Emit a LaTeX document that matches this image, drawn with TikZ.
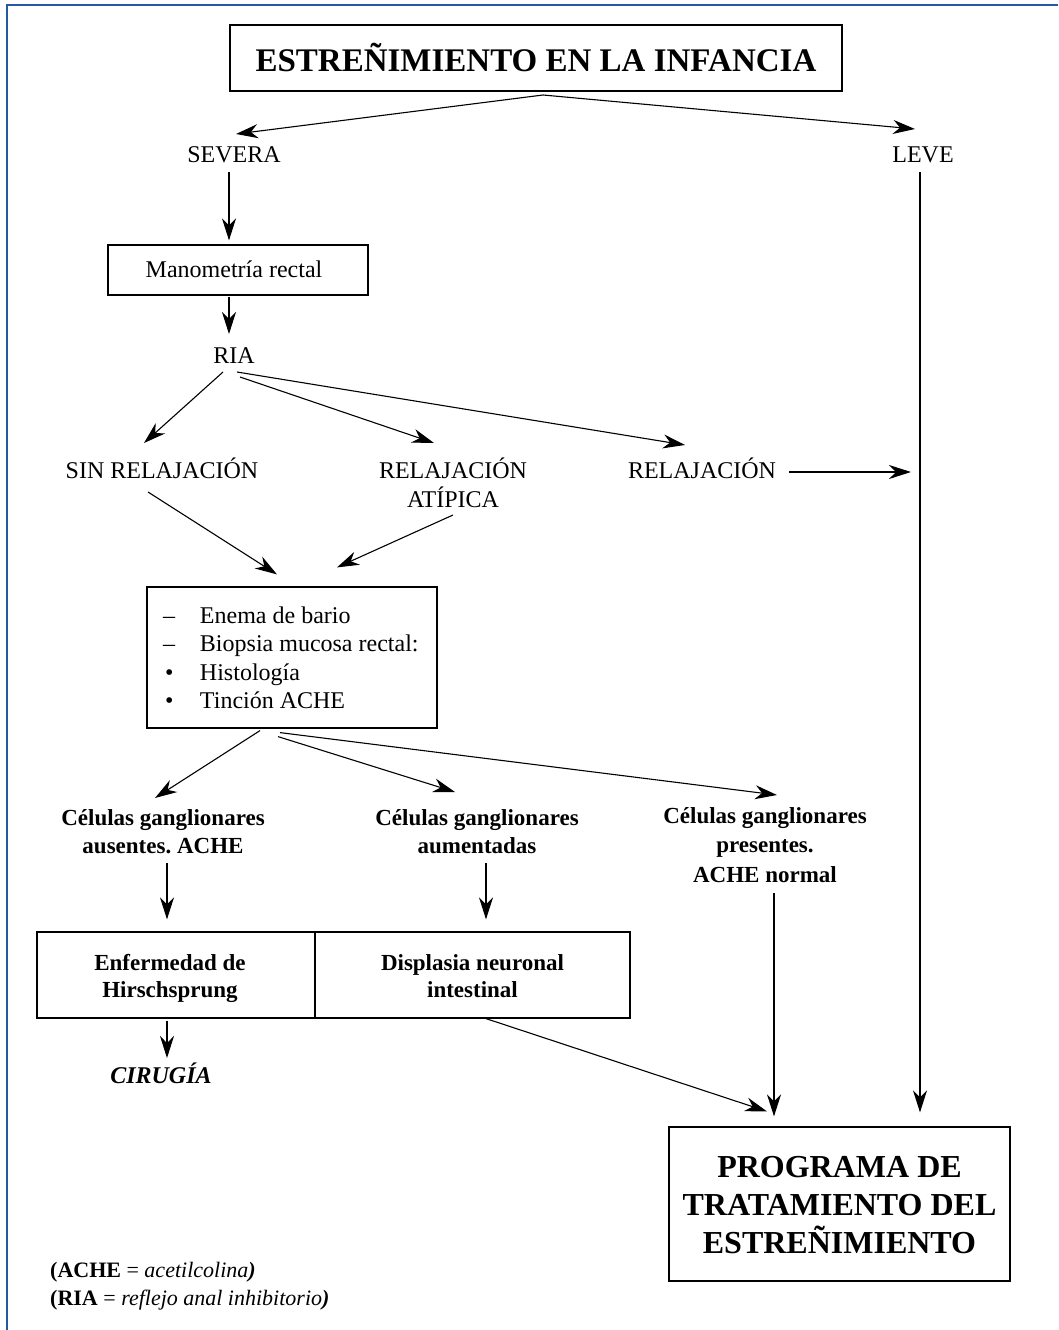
\documentclass[tikz,border=0pt]{standalone}
\usepackage{fontspec}
\setmainfont{Liberation Serif}
\usetikzlibrary{arrows.meta}
\definecolor{frameblue}{RGB}{35,90,160}
\newcommand\mlines[1]{\begin{tabular}[t]{@{}c@{}}#1\end{tabular}}
\frenchspacing
\begin{document}
\begin{tikzpicture}[x=1pt,y=-1pt,
 txt/.style={inner sep=0pt, anchor=base},
 boxn/.style={draw, line width=1.2pt, inner sep=0pt},
 arr/.style={line width=1.1pt, -{Stealth[length=22pt,width=14pt,inset=7pt]}},
 nf/.style={font=\fontsize{24}{28}\selectfont},
 bf/.style={font=\fontsize{23}{28}\selectfont\bfseries}]
\useasboundingbox (0,0) rectangle (1058,1330);
\draw[frameblue, line width=1.5pt] (7,1330) -- (7,5) -- (1058,5);

\node[boxn, minimum width=612pt, minimum height=66pt, text height=26pt, text depth=0pt, font=\fontsize{33}{40}\selectfont\bfseries] (title) at (536,58) {ESTREÑIMIENTO EN LA INFANCIA};
\node[txt,nf] (severa) at (234,162) {SEVERA};
\node[txt,nf] (leve) at (923,162) {LEVE};
\node[boxn,nf,minimum width=260pt,minimum height=50pt,text height=17pt,text depth=3pt] (mano) at (238,270) {Manometría rectal\hspace*{8pt}};
\node[txt,nf] (ria) at (234,363) {RIA};
\node[txt,nf] (sinrel) at (162,478) {SIN RELAJACIÓN};
\node[txt,font=\fontsize{24}{29}\selectfont] (atip) at (453,478) {\mlines{RELAJACIÓN\\ATÍPICA}};
\node[txt,nf] (relaj) at (702,478) {RELAJACIÓN};
\coordinate (lvj) at (911,472);
\node[boxn, font=\fontsize{24}{28.5}\selectfont, minimum width=290pt, minimum height=141pt, text height=20pt, text depth=89pt] (pruebas) at (292,657.5) {\begin{tabular}[t]{@{}p{37pt}@{}p{221pt}@{}}–&Enema de bario\\–&Biopsia mucosa rectal:\\\hspace*{2pt}•&Histología\\\hspace*{2pt}•&Tinción ACHE\end{tabular}};
\node[txt,bf] (aus) at (163,825) {\mlines{Células ganglionares\\ausentes. ACHE}};
\node[txt,bf] (aum) at (477,825) {\mlines{Células ganglionares\\aumentadas}};
\node[txt,font=\fontsize{23}{29.5}\selectfont\bfseries] (pres) at (765,823) {\mlines{Células ganglionares\\presentes.\\ACHE normal}};
\node[boxn,font=\fontsize{23}{27}\selectfont\bfseries, minimum width=278pt, minimum height=86pt, text height=15pt, text depth=25pt] (hirsch) at (176,975) {\mlines{Enfermedad de\\Hirschsprung}\hspace*{12pt}};
\node[boxn,font=\fontsize{23}{27}\selectfont\bfseries, minimum width=315pt, minimum height=86pt, text height=15pt, text depth=25pt] (displ) at (472.5,975) {\mlines{Displasia neuronal\\intestinal}};
\node[txt,font=\fontsize{24}{28}\selectfont\bfseries\itshape] (cir) at (161,1083) {CIRUGÍA};
\node[boxn,font=\fontsize{32}{38}\selectfont\bfseries, minimum width=341pt, minimum height=154pt, text height=20pt, text depth=74pt] (prog) at (839.5,1204) {\mlines{PROGRAMA DE\\TRATAMIENTO DEL\\ESTREÑIMIENTO}};
\node[txt, anchor=base west, font=\fontsize{22}{28}\selectfont] (nota) at (50,1277) {\begin{tabular}[t]{@{}l@{}}\textbf{(ACHE} = \textit{acetilcolina\textbf{)}}\\\textbf{(RIA} = \textit{reflejo anal inhibitorio\textbf{)}}\end{tabular}};

\draw[arr] ([shift={(7,37)}]title.center) -- ([shift={(2,-28)}]severa.base);
\draw[arr] ([shift={(7,37)}]title.center) -- ([shift={(-8,-33)}]leve.base);
\draw[arr] ([shift={(-5,10)}]severa.base) -- ([shift={(-9,-4)}]mano.north);
\draw[arr] ([shift={(-9,1)}]mano.south) -- ([shift={(-5,-29)}]ria.base);
\draw[arr] ([shift={(-11,9)}]ria.base) -- ([shift={(-18,-35)}]sinrel.base);
\draw[arr] ([shift={(6,14)}]ria.base) -- ([shift={(-19,-35)}]atip.base);
\draw[arr] ([shift={(3,9)}]ria.base) -- ([shift={(-17,-33)}]relaj.base);
\draw[arr] ([shift={(87,-6)}]relaj.base) -- (lvj);
\draw[arr] ([shift={(-14,14)}]sinrel.base) -- ([shift={(-15,-12)}]pruebas.north);
\draw[arr] ([shift={(0,37)}]atip.base) -- ([shift={(45,-19)}]pruebas.north);
\draw[arr] ([shift={(-32,2)}]pruebas.south) -- ([shift={(-8,-27)}]aus.base);
\draw[arr] ([shift={(-14,8)}]pruebas.south) -- ([shift={(-22,-33)}]aum.base);
\draw[arr] ([shift={(-12,4)}]pruebas.south) -- ([shift={(12,-28)}]pres.base);
\draw[arr] ([shift={(4,38)}]aus.base) -- ([shift={(-9,-12)}]hirsch.north);
\draw[arr] ([shift={(9,38)}]aum.base) -- ([shift={(13.5,-12)}]displ.north);
\draw[arr] ([shift={(-9,2)}]hirsch.south) -- ([shift={(6,-25)}]cir.base);
\draw[arr] ([shift={(13.5,0)}]displ.south) -- ([shift={(-72.5,-15)}]prog.north);
\draw[arr] ([shift={(9,70)}]pres.base) -- ([shift={(-65.5,-10)}]prog.north);
\draw[arr] ([shift={(-3,10)}]leve.base) -- ([shift={(80.5,-14)}]prog.north);
\end{tikzpicture}
\end{document}
